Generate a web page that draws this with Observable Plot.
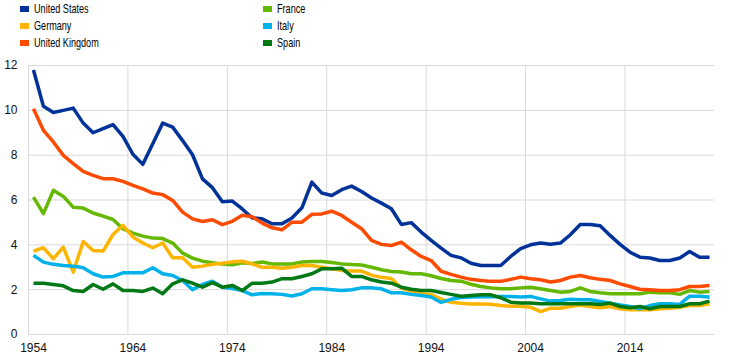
<!DOCTYPE html>
<html>
<head>
<meta charset="utf-8">
<script src="https://cdn.jsdelivr.net/npm/d3@7"></script>
<script src="https://cdn.jsdelivr.net/npm/@observablehq/plot@0.6"></script>
<style>
  html, body { margin: 0; padding: 0; background: #fff; }
  #wrap { width: 745px; height: 361px; position: relative; overflow: hidden; }
  #legend { position: relative; width: 745px; height: 52px; font-family: "Liberation Sans", Arial, sans-serif; font-size: 13px; color: #000; }
  .item { position: absolute; height: 17px; line-height: 17px; white-space: nowrap; }
  .sw { position: absolute; width: 9px; height: 6px; top: 5.5px; left: 0; }
  .lab { position: absolute; left: 14px; top: 0; display: inline-block; transform: scaleX(0.7); transform-origin: 0 50%; }
  #chart svg { display: block; }
</style>
</head>
<body>
<div id="wrap">
  <div id="legend"></div>
  <div id="chart"></div>
</div>
<script>
const years = d3.range(1954, 2023);
const countries = ["United States", "Germany", "United Kingdom", "France", "Italy", "Spain"];
const colors = ["#003299", "#ffb400", "#ff4b00", "#65b800", "#00b1ea", "#007816"];
const yTicks = [0, 2, 4, 6, 8, 10, 12];
const xTickLabels = [1954, 1964, 1974, 1984, 1994, 2004, 2014];

const unitedStates = [
  11.8, 10.18, 9.9, 10.0, 10.1, 9.43, 9.0, 9.18, 9.36, 8.84, 8.04, 7.59, 8.51, 9.43,
  9.25, 8.65, 8.02, 6.94, 6.55, 5.92, 5.95, 5.6, 5.2, 5.16, 4.94, 4.94, 5.2, 5.65,
  6.8, 6.31, 6.2, 6.46, 6.62, 6.38, 6.09, 5.86, 5.61, 4.91, 4.99, 4.57, 4.2,
  3.85, 3.53, 3.42, 3.18, 3.08, 3.08, 3.08, 3.48, 3.83, 4.0, 4.08, 4.03, 4.08, 4.45,
  4.91, 4.91, 4.85, 4.42, 4.02, 3.67, 3.45, 3.41, 3.3, 3.3, 3.41, 3.7, 3.45, 3.45
];
const germany = [
  3.72, 3.87, 3.38, 3.9, 2.78, 4.15, 3.75, 3.72, 4.46, 4.87, 4.35, 4.08, 3.87, 4.08,
  3.42, 3.42, 3.0, 3.05, 3.13, 3.18, 3.24, 3.27, 3.15, 3.0, 3.0, 2.96, 3.0, 3.08,
  3.08, 3.0, 2.93, 2.86, 2.83, 2.83, 2.65, 2.55, 2.5, 2.07, 1.92, 1.82, 1.78,
  1.58, 1.44, 1.39, 1.36, 1.36, 1.35, 1.29, 1.26, 1.26, 1.22, 1.02, 1.17, 1.17, 1.25,
  1.32, 1.25, 1.19, 1.25, 1.15, 1.1, 1.1, 1.1, 1.15, 1.17, 1.21, 1.29, 1.29, 1.37
];
const unitedKingdom = [
  10.07, 9.11, 8.59, 7.99, 7.62, 7.28, 7.1, 6.95, 6.95, 6.83, 6.65, 6.5, 6.31, 6.24,
  5.98, 5.46, 5.16, 5.04, 5.12, 4.9, 5.05, 5.32, 5.25, 4.97, 4.76, 4.67, 5.01, 5.01,
  5.36, 5.38, 5.5, 5.31, 5.01, 4.72, 4.2, 4.02, 3.97, 4.12, 3.78, 3.48, 3.3,
  2.82, 2.68, 2.56, 2.46, 2.41, 2.37, 2.37, 2.46, 2.56, 2.49, 2.44, 2.34, 2.41, 2.56,
  2.63, 2.53, 2.46, 2.41, 2.26, 2.14, 2.02, 2.0, 1.96, 1.96, 2.0, 2.14, 2.14, 2.19
];
const france = [
  6.13, 5.39, 6.43, 6.16, 5.68, 5.64, 5.42, 5.28, 5.13, 4.72, 4.52, 4.39, 4.3, 4.28,
  4.08, 3.63, 3.41, 3.27, 3.2, 3.14, 3.11, 3.2, 3.17, 3.23, 3.15, 3.15, 3.15, 3.23,
  3.26, 3.26, 3.21, 3.15, 3.12, 3.1, 3.0, 2.89, 2.81, 2.79, 2.71, 2.71, 2.62,
  2.5, 2.41, 2.38, 2.24, 2.14, 2.08, 2.04, 2.04, 2.08, 2.11, 2.04, 1.96, 1.89, 1.92,
  2.08, 1.92, 1.86, 1.82, 1.82, 1.82, 1.82, 1.89, 1.86, 1.86, 1.79, 1.96, 1.89, 1.92
];
const italy = [
  3.53, 3.23, 3.13, 3.08, 3.05, 2.98, 2.71, 2.56, 2.59, 2.75, 2.75, 2.75, 2.98, 2.71,
  2.63, 2.41, 2.0, 2.23, 2.38, 2.11, 2.05, 1.96, 1.77, 1.83, 1.82, 1.79, 1.72, 1.82,
  2.04, 2.04, 2.0, 1.96, 2.0, 2.08, 2.08, 2.04, 1.86, 1.86, 1.79, 1.74, 1.67,
  1.43, 1.57, 1.65, 1.67, 1.68, 1.68, 1.7, 1.7, 1.67, 1.7, 1.59, 1.49, 1.52, 1.57,
  1.55, 1.55, 1.47, 1.4, 1.32, 1.25, 1.15, 1.29, 1.37, 1.37, 1.34, 1.71, 1.71, 1.67
];
const spain = [
  2.29, 2.29, 2.23, 2.17, 1.96, 1.92, 2.23, 2.02, 2.26, 1.96, 1.96, 1.92, 2.07, 1.82,
  2.26, 2.44, 2.29, 2.11, 2.31, 2.11, 2.19, 1.96, 2.29, 2.29, 2.34, 2.49, 2.49, 2.59,
  2.71, 2.93, 2.93, 2.96, 2.59, 2.59, 2.44, 2.34, 2.29, 2.11, 2.02, 1.96, 1.96,
  1.87, 1.79, 1.71, 1.74, 1.77, 1.77, 1.64, 1.44, 1.4, 1.4, 1.37, 1.37, 1.37, 1.37,
  1.37, 1.37, 1.34, 1.4, 1.25, 1.19, 1.25, 1.15, 1.25, 1.25, 1.25, 1.37, 1.37, 1.49
];

const seriesValues = [unitedStates, germany, unitedKingdom, france, italy, spain];
const drawOrder = ["United States", "France", "Germany", "Italy", "United Kingdom", "Spain"];

const rows = [];
drawOrder.forEach(name => {
  const vals = seriesValues[countries.indexOf(name)];
  years.forEach((yr, i) => rows.push({country: name, year: yr, value: vals[i]}));
});

// legend (two columns, three rows)
const legend = document.getElementById("legend");
countries.forEach((name, i) => {
  const col = Math.floor(i / 3), row = i % 3;
  const it = document.createElement("div");
  it.className = "item";
  it.style.left = (col === 0 ? 20 : 263) + "px";
  it.style.top = (row * 17) + "px";
  it.innerHTML = `<span class="sw" style="background:${colors[i]}"></span><span class="lab">${name}</span>`;
  legend.appendChild(it);
});

const gridYears = d3.range(1953.5, 2014, 10);

const chart = Plot.plot({
  width: 745,
  height: 309,
  marginTop: 13,
  marginBottom: 27,
  marginLeft: 28,
  marginRight: 31,
  x: {domain: [1953.5, 2022.5], label: null},
  y: {domain: [0, 12], label: null},
  color: {domain: countries, range: colors},
  style: {fontFamily: "'Liberation Sans', Arial, sans-serif", fontSize: "12px", color: "#111", background: "white", overflow: "visible"},
  marks: [
    Plot.ruleY(yTicks, {y: d => d, stroke: "#d9d9d9", strokeWidth: 1}),
    Plot.ruleX(gridYears, {x: d => d, stroke: "#d9d9d9", strokeWidth: 1}),
    Plot.axisX(xTickLabels, {tickSize: 0, tickPadding: 9, tickFormat: d => String(d), fontSize: 12, label: null}),
    Plot.axisY(yTicks, {tickSize: 0, tickPadding: 11, tickFormat: d => String(d), fontSize: 12, label: null}),
    Plot.line(rows, {x: "year", y: "value", z: "country", stroke: "country", strokeWidth: 3.5, strokeLinejoin: "round", strokeLinecap: "butt"})
  ]
});
document.getElementById("chart").appendChild(chart);
</script>
</body>
</html>
